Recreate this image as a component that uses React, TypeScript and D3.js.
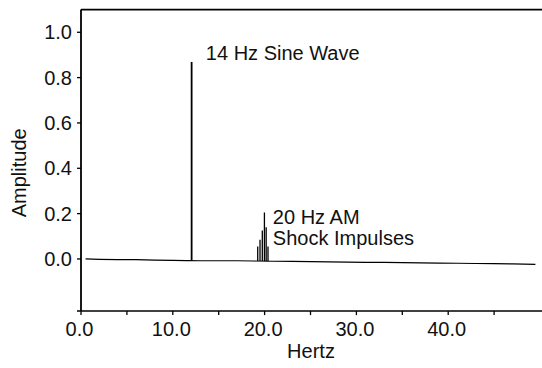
import React from "react";
import * as d3 from "d3";

const W = 542;
const H = 368;

// Axis ticks
const xMajorTicks = [0, 10, 20, 30, 40];
const xMinorTicks = [5, 15, 25, 35, 45];
const yTicks = [0, 0.2, 0.4, 0.6, 0.8, 1.0];

// Noise floor of the spectrum (Hz, amplitude)
const floorHz = [0.5, 2, 4, 6, 8, 10, 11.5, 13, 15, 17, 18.8, 21, 23, 25, 27, 29, 31, 33, 35, 37, 39, 41, 43, 45, 47, 49.5];
const floorAmp = [0.0, -0.002, -0.003, -0.003, -0.005, -0.006, -0.007, -0.008, -0.008, -0.008, -0.009, -0.01, -0.011, -0.012, -0.013, -0.014, -0.015, -0.015, -0.016, -0.017, -0.018, -0.019, -0.02, -0.021, -0.022, -0.024];

// Spectral peaks
const sineHz = [12.05];
const sineAmp = [0.869];
const shockHz = [19.25, 19.5, 19.75, 19.98, 20.17, 20.37];
const shockAmp = [0.055, 0.085, 0.125, 0.205, 0.14, 0.055];

const annotations = [
  { text: "14 Hz Sine Wave", hz: 13.6, amp: 0.878 },
  { text: "20 Hz AM", hz: 20.9, amp: 0.153 },
  { text: "Shock Impulses", hz: 20.9, amp: 0.06 },
];

export default function App() {
  const x = d3.scaleLinear().domain([0, 50]).range([81, 540]);
  const y = d3.scaleLinear().domain([-0.23, 1.1]).range([311.1, 9.6]);
  const font = "'Liberation Sans', Arial, Helvetica, sans-serif";
  const fs = 20;

  const floorPts: [number, number][] = floorHz.map((f, i) => [f, floorAmp[i]]);
  const floorLine = d3
    .line<[number, number]>()
    .x((d) => x(d[0]))
    .y((d) => y(d[1]));
  const floorAt = (f: number) => {
    const i = d3.bisector((d: number) => d).left(floorHz, f);
    if (i <= 0) return floorAmp[0];
    if (i >= floorHz.length) return floorAmp[floorAmp.length - 1];
    const t = (f - floorHz[i - 1]) / (floorHz[i] - floorHz[i - 1]);
    return floorAmp[i - 1] + t * (floorAmp[i] - floorAmp[i - 1]);
  };

  return (
    <svg width={W} height={H} style={{ position: "absolute", left: 0, top: 0, background: "#fff" }}>
      <rect x={0} y={0} width={W} height={H} fill="#fff" />
      {/* frame */}
      <line x1={x(0)} x2={x(0)} y1={y(1.1)} y2={y(-0.23)} stroke="#000" strokeWidth={1.8} />
      <line x1={x(0)} x2={W} y1={y(1.1)} y2={y(1.1)} stroke="#000" strokeWidth={1.6} />
      <line x1={x(0) - 4} x2={W} y1={y(-0.23)} y2={y(-0.23)} stroke="#000" strokeWidth={1.5} />

      {/* y ticks */}
      {yTicks.map((t) => (
        <g key={"y" + t}>
          <line x1={x(0) - 4} x2={x(0)} y1={y(t)} y2={y(t)} stroke="#000" strokeWidth={1.3} />
          <text
            x={72}
            y={y(t)}
            dy="0.36em"
            textAnchor="end"
            fontFamily={font}
            fontSize={fs}
            fill="#111"
          >
            {d3.format(".1f")(t)}
          </text>
        </g>
      ))}

      {/* x ticks */}
      {[...xMajorTicks, ...xMinorTicks].map((t) => (
        <line key={"xt" + t} x1={x(t)} x2={x(t)} y1={y(-0.23)} y2={y(-0.23) + 4} stroke="#000" strokeWidth={1.3} />
      ))}
      {xMajorTicks.map((t) => (
        <text
          key={"xl" + t}
          x={x(t) - 1.5}
          y={336}
          textAnchor="middle"
          fontFamily={font}
          fontSize={fs}
          fill="#111"
        >
          {d3.format(".1f")(t)}
        </text>
      ))}

      {/* axis titles */}
      <text x={311} y={358} textAnchor="middle" fontFamily={font} fontSize={fs} fill="#111">
        Hertz
      </text>
      <text
        transform={`translate(26,${y(0.38)}) rotate(-90)`}
        textAnchor="middle"
        fontFamily={font}
        fontSize={fs}
        fill="#111"
      >
        Amplitude
      </text>

      {/* spectrum floor */}
      <path d={floorLine(floorPts) || ""} fill="none" stroke="#000" strokeWidth={1.2} />

      {/* peaks */}
      {sineHz.map((f, i) => (
        <line key={"s" + i} x1={x(f)} x2={x(f)} y1={y(floorAt(f))} y2={y(sineAmp[i])} stroke="#000" strokeWidth={1.8} />
      ))}
      {shockHz.map((f, i) => (
        <line key={"k" + i} x1={x(f)} x2={x(f)} y1={y(floorAt(f))} y2={y(shockAmp[i])} stroke="#000" strokeWidth={1.3} />
      ))}

      {/* annotations */}
      {annotations.map((a) => (
        <text key={a.text} x={x(a.hz)} y={y(a.amp)} fontFamily={font} fontSize={fs} fill="#111">
          {a.text}
        </text>
      ))}
    </svg>
  );
}
